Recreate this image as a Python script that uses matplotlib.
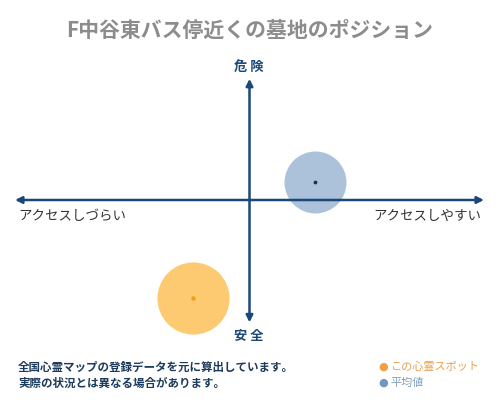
import matplotlib.pyplot as plt

plt.rcParams['font.family'] = ['Noto Sans CJK JP', 'DejaVu Sans']

title = "F中谷東バス停近くの墓地のポジション"
label_top = "危 険"
label_bottom = "安 全"
label_left = "アクセスしづらい"
label_right = "アクセスしやすい"
note_lines = ["全国心霊マップの登録データを元に算出しています。",
              "実際の状況とは異なる場合があります。"]
legend_names = ["この心霊スポット", "平均値"]

# positions on -100..100 scale (x: access, y: danger)
spot_xy = (-24, -82)
avg_xy = (28, 15)
spot_size = 2700
avg_size = 1990

navy = "#1b4878"
orange = "#fdc462"
blue = "#a3bbd6"

fig = plt.figure(figsize=(5, 4), dpi=100)
fig.patch.set_facecolor("white")

# main axes: arrows span 15..484 px horizontally, 80..320 px vertically
ax = fig.add_axes([15 / 500, (400 - 320) / 400, 469 / 500, 240 / 400])
ax.set_xlim(-100, 100)
ax.set_ylim(-100, 100)
ax.axis("off")

ax.scatter([avg_xy[0]], [avg_xy[1]], s=avg_size, color=blue, alpha=0.9, zorder=2,
           linewidths=0, clip_on=False)
ax.scatter([spot_xy[0]], [spot_xy[1]], s=spot_size, color=orange, alpha=0.9, zorder=2,
           linewidths=0, clip_on=False)
ax.scatter([avg_xy[0]], [avg_xy[1]], s=3, color="#1b3050", zorder=4, clip_on=False)
ax.scatter([spot_xy[0]], [spot_xy[1]], s=5, color="#f0a020", zorder=4, clip_on=False)

arrow = dict(arrowstyle="-|>", color=navy, lw=1.8, mutation_scale=10, shrinkA=0, shrinkB=0)
for tip in [(100, 0), (-100, 0), (0, 101), (0, -102)]:
    ax.annotate("", xy=tip, xytext=(0, 0), arrowprops=arrow, zorder=3,
                annotation_clip=False)

fig.text(0.5, 1 - 30 / 400, title, ha="center", va="center", fontsize=15,
         fontweight="bold", color="#8c8c8c")
fig.text(249 / 500, 1 - 67 / 400, label_top, ha="center", va="center", fontsize=9.5,
         fontweight="bold", color=navy)
fig.text(249 / 500, 1 - 336 / 400, label_bottom, ha="center", va="center", fontsize=9.5,
         fontweight="bold", color=navy)
fig.text(18 / 500, 1 - 216 / 400, label_left, ha="left", va="center", fontsize=9.7,
         color="#333333")
fig.text(481 / 500, 1 - 216 / 400, label_right, ha="right", va="center", fontsize=9.7,
         color="#333333")

fig.text(18 / 500, 1 - 367 / 400, note_lines[0], ha="left", va="center", fontsize=8.3,
         fontweight="bold", color="#1b3a5c")
fig.text(18 / 500, 1 - 383 / 400, note_lines[1], ha="left", va="center", fontsize=8.3,
         fontweight="bold", color="#1b3a5c")

fig.text(383 / 500, 1 - 367 / 400, "●", ha="center", va="center", fontsize=8,
         color="#f0a040", family=["DejaVu Sans"])
fig.text(390 / 500, 1 - 367 / 400, legend_names[0], ha="left", va="center", fontsize=8,
         color="#e8a050")
fig.text(383 / 500, 1 - 383 / 400, "●", ha="center", va="center", fontsize=8,
         color="#6f97bf", family=["DejaVu Sans"])
fig.text(390 / 500, 1 - 383 / 400, legend_names[1], ha="left", va="center", fontsize=8,
         color="#7f9fbf")

fig.savefig("out.png", dpi=100, facecolor="white")
